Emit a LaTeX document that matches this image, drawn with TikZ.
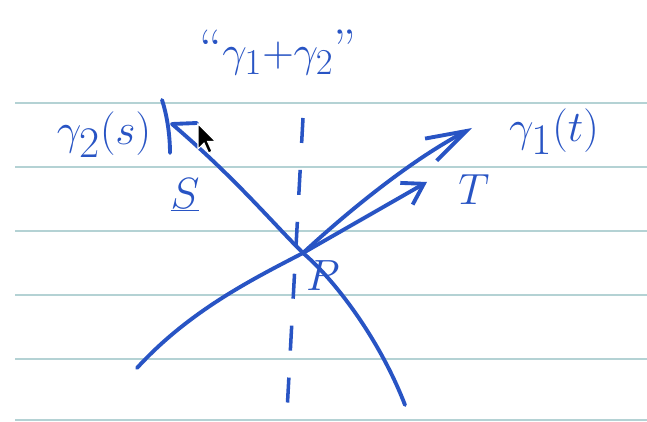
\documentclass[tikz,border=0pt]{standalone}
\usetikzlibrary{arrows.meta}
\definecolor{ink}{RGB}{40,84,196}
\definecolor{ruling}{RGB}{180,210,212}
\begin{document}
\begin{tikzpicture}[x=0.02cm,y=-0.02cm,
  curve/.style={ink,line width=2.2pt,line cap=round},
  rule/.style={ruling,line width=1.3pt},
  dashline/.style={ink,line width=2pt,dash pattern=on 0.5cm off 0.54cm},
  lbl/.style={ink,font=\fontsize{30}{34}\selectfont,inner sep=0pt},
  biglbl/.style={lbl,font=\fontsize{37}{40}\selectfont},
  bigtip/.style={-{Straight Barb[length=8mm,width=5mm]}},
  smalltip/.style={-{Straight Barb[length=4mm,width=5mm]}}]
\fill[white] (0,0) rectangle (647,422);
\useasboundingbox (0,0) rectangle (647,422);
% ruled paper
\foreach \y in {103,167,231,295,359,420} \draw[rule] (15,\y) -- (647,\y);
% points
\coordinate (p) at (303,253);
\coordinate (dtop) at (303,118); \coordinate (dbot) at (287,412);
\coordinate (g1a) at (137,368); \coordinate (g1b) at (472,128);
\coordinate (g2a) at (172,124); \coordinate (g2b) at (405,405);
\coordinate (tv) at (427,182);
% dashed sum curve
\draw[dashline] (dtop) -- (dbot);
% the two curves
\draw[curve,bigtip] (g1a) .. controls (190,310) and (255,278) .. (p) .. controls (355,205) and (415,158) .. (g1b);
\draw[curve] (g2a) .. controls (235,178) and (270,220) .. (p) .. controls (335,280) and (380,340) .. (g2b);
\draw[curve] (162,100) .. controls (167,115) and (170,135) .. (170,153);
\draw[curve] (g2a) -- (197,123);
% tangent vector
\draw[curve,smalltip] (p) -- (tv);
% labels
\node[lbl] (sum) at (278,52) {``$\gamma_1{+}\gamma_2$''};
\node[biglbl] (g2lbl) at (104,135) {$\gamma_2(s)$};
\node[biglbl] (g1lbl) at (554,132) {$\gamma_1(t)$};
\node[lbl] (slbl) at (185,195) {$\underline{S}$};
\node[lbl] (tlbl) at (474,190) {$T$};
\node[lbl] (plbl) at (323,276) {$P$};
% mouse pointer
\filldraw[fill=black,draw=white,line width=0.6pt] (198,124) -- ++(0,25) -- ++(6,-6) -- ++(4.5,10) -- ++(3.5,-1.7) -- ++(-4.5,-10) -- ++(8,0) -- cycle;
\end{tikzpicture}
\end{document}
